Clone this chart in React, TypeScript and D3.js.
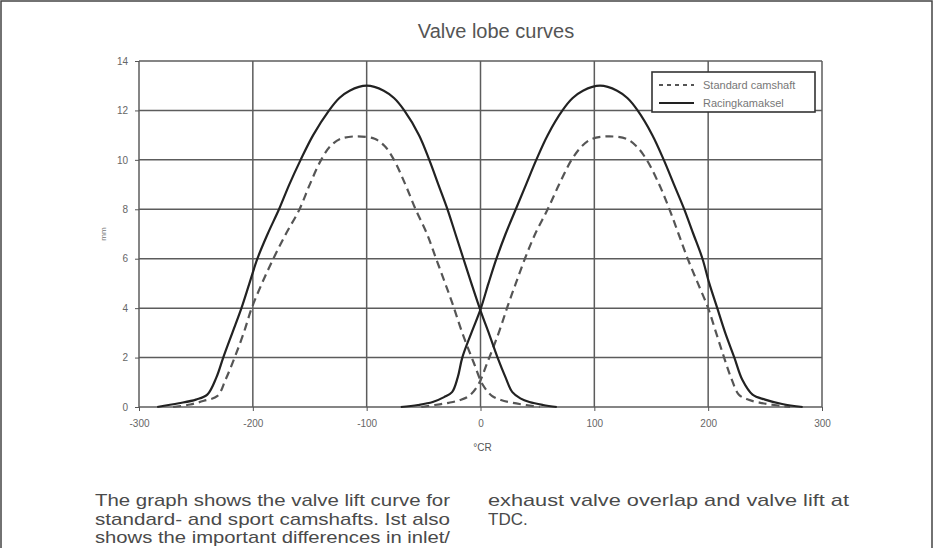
import React, { useEffect, useRef } from 'react';
import * as d3 from 'd3';

// axis ticks
const xTicks = [-300, -200, -100, 0, 100, 200, 300];
const yTicks = [0, 2, 4, 6, 8, 10, 12, 14];

// [crank angle °, lift mm]
const standardExhaust: [number, number][] = [
  [-270, 0], [-255, 0.1], [-243, 0.25], [-231, 0.45], [-224, 1.1], [-216, 2], [-208, 3],
  [-201, 4], [-192, 5], [-182, 6], [-171, 7], [-159, 8], [-150, 9], [-140, 10], [-132, 10.55],
  [-123, 10.85], [-108, 10.95], [-93, 10.85], [-84, 10.55], [-76, 10], [-66, 9], [-57, 8],
  [-47, 7], [-39, 6], [-31, 5], [-24, 4.1], [-16, 3], [-6, 1.8], [2, 0.9], [10, 0.45],
  [18, 0.28], [28, 0.17], [40, 0.08], [52, 0],
];
const standardInlet: [number, number][] = [
  [-52, 0], [-40, 0.08], [-28, 0.17], [-18, 0.28], [-10, 0.45], [-2, 0.9], [6, 1.8], [16, 3],
  [24, 4.1], [31, 5], [39, 6], [48, 7], [59, 8], [69, 9], [80, 10], [89, 10.55], [98, 10.85],
  [113, 10.95], [128, 10.85], [137, 10.55], [146, 10], [157, 9], [166, 8], [174, 7], [182, 6],
  [191, 5], [200, 4], [207, 3], [214, 2], [220, 1.2], [227, 0.5], [235, 0.3], [245, 0.18],
  [258, 0.08], [272, 0],
];
const racingExhaust: [number, number][] = [
  [-284, 0], [-265, 0.15], [-250, 0.3], [-240, 0.5], [-232, 1.2], [-226, 2], [-218, 3],
  [-210, 4], [-203, 5], [-196, 6], [-187, 7], [-177, 8], [-168, 9], [-158, 10], [-147, 11],
  [-133, 12], [-124, 12.5], [-115, 12.8], [-100, 13], [-85, 12.8], [-76, 12.5], [-67, 12],
  [-54, 11], [-45, 10], [-37, 9], [-29, 8], [-22, 7], [-15, 6], [-8, 5], [0, 3.9], [8, 2.9],
  [15, 2], [22, 1.2], [28, 0.6], [35, 0.35], [43, 0.2], [55, 0.08], [67, 0],
];
const racingInlet: [number, number][] = [
  [-70, 0], [-55, 0.08], [-42, 0.2], [-32, 0.4], [-25, 0.6], [-20, 1.2], [-16, 2], [-8, 3],
  [0, 3.95], [7, 5], [14, 6], [22, 7], [31, 8], [40, 9], [49, 10], [59, 11], [72, 12],
  [81, 12.5], [90, 12.8], [105, 13], [120, 12.8], [129, 12.5], [138, 12], [151, 11], [161, 10],
  [170, 9], [179, 8], [187, 7], [195, 6], [201, 5], [208, 4], [215, 3], [223, 2], [230, 1.1],
  [239, 0.5], [250, 0.3], [265, 0.12], [283, 0],
];

const legendNames = ['Standard camshaft', 'Racingkamaksel'];

const captionLeft = [
  'The graph shows the valve lift curve for',
  'standard- and sport camshafts. Ist also',
  'shows the important differences in inlet/',
];
const captionRight = ['exhaust valve overlap and valve lift at', 'TDC.'];

const ValveChart = () => {
  const ref = useRef<SVGSVGElement>(null);

  useEffect(() => {
    const width = 934;
    const height = 548;
    const margin = { top: 61, right: 112, bottom: 141, left: 139 };
    const font = 'Arial, "Liberation Sans", sans-serif';

    const svg = d3.select(ref.current);
    svg.selectAll('*').remove();
    svg.attr('width', width).attr('height', height);

    svg.append('rect').attr('width', width).attr('height', height).attr('fill', '#fff');

    // page frame
    svg.append('path')
      .attr('d', `M1,${height} V1 H${width - 2} V${height}`)
      .attr('fill', 'none').attr('stroke', '#444').attr('stroke-width', 1.5);

    const x = d3.scaleLinear().domain([-300, 300]).range([margin.left, width - margin.right]);
    const y = d3.scaleLinear().domain([0, 14]).range([height - margin.bottom, margin.top]);

    // grid
    const grid = svg.append('g').attr('stroke', '#5c5c5c').attr('stroke-width', 1.5);
    grid.selectAll('line.h').data(yTicks).join('line')
      .attr('x1', x(-300)).attr('x2', x(300))
      .attr('y1', d => y(d)).attr('y2', d => y(d));
    grid.selectAll('line.v').data(xTicks).join('line')
      .attr('y1', y(0)).attr('y2', y(14))
      .attr('x1', d => x(d)).attr('x2', d => x(d));

    // axes
    const xAxis = svg.append('g')
      .attr('transform', `translate(0,${y(0)})`)
      .call(d3.axisBottom(x).tickValues(xTicks).tickFormat(d => String(d)).tickSize(4).tickPadding(9));
    const yAxis = svg.append('g')
      .attr('transform', `translate(${x(-300)},0)`)
      .call(d3.axisLeft(y).tickValues(yTicks).tickFormat(d => String(d)).tickSize(4).tickPadding(7));
    [xAxis, yAxis].forEach(a => {
      a.select('.domain').remove();
      a.selectAll('line').attr('stroke', '#555');
      a.selectAll('text').attr('fill', '#666').style('font-family', font).style('font-size', '10px');
    });

    svg.append('text')
      .attr('x', x(0) + 2).attr('y', 451)
      .attr('text-anchor', 'middle').attr('fill', '#555')
      .style('font-family', font).style('font-size', '10px')
      .text('°CR');

    svg.append('text')
      .attr('transform', `translate(106,${(y(0) + y(14)) / 2}) rotate(-90)`)
      .attr('text-anchor', 'middle').attr('fill', '#777')
      .style('font-family', font).style('font-size', '8px')
      .text('mm');

    // title
    svg.append('text')
      .attr('x', 496).attr('y', 38)
      .attr('text-anchor', 'middle').attr('fill', '#555')
      .style('font-family', font).style('font-size', '20px')
      .text('Valve lobe curves');

    // curves
    const line = d3.line<[number, number]>()
      .x(d => x(d[0])).y(d => y(Math.max(0, d[1])))
      .curve(d3.curveCatmullRom.alpha(0.5));

    const curves = [
      { data: standardExhaust, dash: '8,5' },
      { data: standardInlet, dash: '8,5' },
      { data: racingExhaust, dash: null },
      { data: racingInlet, dash: null },
    ];
    svg.append('g').selectAll('path').data(curves).join('path')
      .attr('d', d => line(d.data))
      .attr('fill', 'none')
      .attr('stroke', d => (d.dash ? '#555' : '#222'))
      .attr('stroke-width', 2.2)
      .attr('stroke-dasharray', d => d.dash);

    // legend
    const lg = svg.append('g');
    lg.append('rect')
      .attr('x', 652).attr('y', 72).attr('width', 163).attr('height', 40)
      .attr('fill', '#fff').attr('stroke', '#333').attr('stroke-width', 1.6);
    legendNames.forEach((name, i) => {
      const ly = 85 + i * 18;
      lg.append('line')
        .attr('x1', 659).attr('x2', 694).attr('y1', ly).attr('y2', ly)
        .attr('stroke', i === 0 ? '#555' : '#222').attr('stroke-width', 2.2)
        .attr('stroke-dasharray', i === 0 ? '4,4' : null);
      lg.append('text')
        .attr('x', 703).attr('y', ly + 4).attr('fill', '#777')
        .style('font-family', font).style('font-size', '11px')
        .text(name);
    });

    // caption in two columns
    const cap = svg.append('g').attr('fill', '#4a4a4a')
      .style('font-family', font).style('font-size', '17px');
    captionLeft.forEach((t, i) => {
      cap.append('text')
        .attr('x', 95).attr('y', 506 + i * 18.5)
        .attr('textLength', 355).attr('lengthAdjust', 'spacingAndGlyphs')
        .text(t);
    });
    captionRight.forEach((t, i) => {
      const el = cap.append('text')
        .attr('x', 488).attr('y', 506 + i * 18.5)
        .text(t);
      if (i === 0) el.attr('textLength', 361).attr('lengthAdjust', 'spacingAndGlyphs');
    });
  }, []);

  return <svg ref={ref} style={{ position: 'absolute', left: 0, top: 0 }} />;
};

export default function App() {
  return <ValveChart />;
}
